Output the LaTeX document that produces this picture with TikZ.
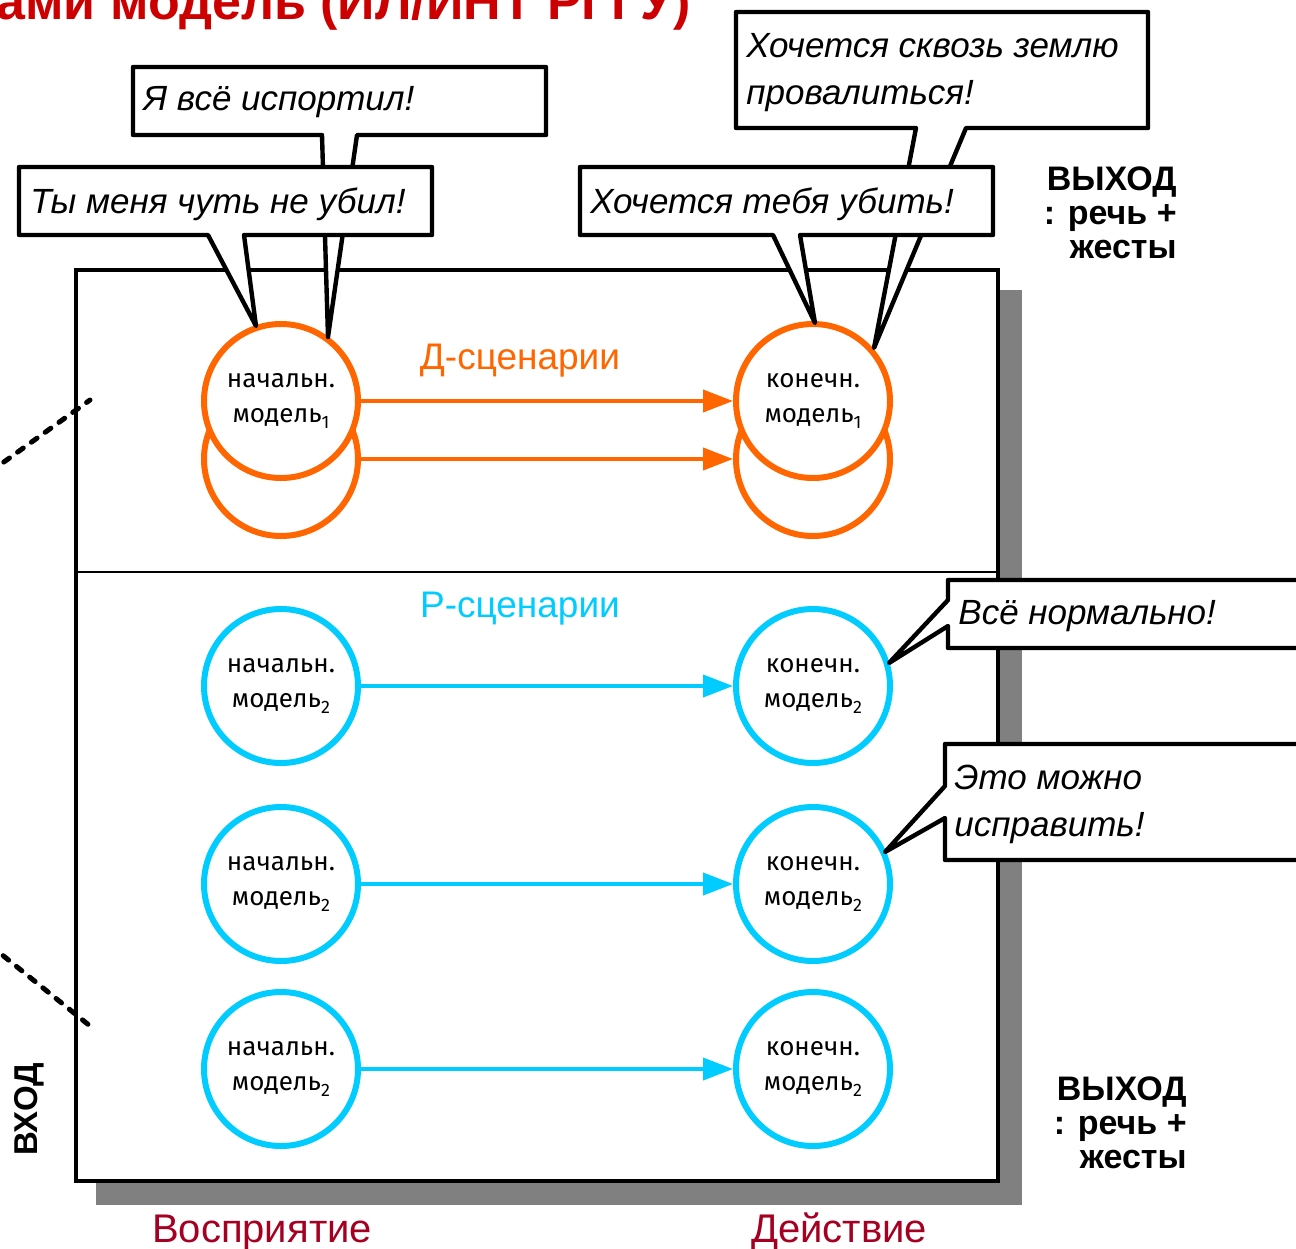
\documentclass[tikz,border=0pt]{standalone}
\usepackage{fontspec}
\setmainfont{Liberation Sans}
\newfontfamily\circfont{Fira Sans}
\usetikzlibrary{arrows.meta}
\definecolor{dorange}{HTML}{FF6600}
\definecolor{dcyan}{HTML}{00CCFF}
\definecolor{tred}{HTML}{CC0000}
\definecolor{lred}{HTML}{A50021}
\definecolor{shadowgray}{HTML}{808080}
\newcommand{\sbx}[1]{{\fontsize{9}{9}\selectfont\raisebox{-3pt}{#1}}}
\tikzset{
 circ/.style={circle, draw, line width=3pt, fill=white, minimum size=77pt, inner sep=0pt, align=center, font=\circfont\fontsize{13}{17.5}\selectfont},
 arr/.style={line width=2pt, -{Triangle[length=15pt,width=11pt]}},
 callout/.style={draw, fill=white, line width=2.2pt, line join=round},
 saytext/.style={font=\itshape\fontsize{17.5}{23.5}\selectfont, inner sep=0pt, anchor=north west, align=left},
 outtext/.style={font=\bfseries\fontsize{17}{17}\selectfont, inner sep=0pt, anchor=north east, align=right},
 scen/.style={font=\fontsize{18.5}{20}\selectfont, inner sep=0pt, anchor=base},
 bottomlabel/.style={font=\fontsize{20}{22}\selectfont, text=lred, inner sep=0pt, anchor=base},
 dotline/.style={line width=2.5pt, dash pattern=on 3.5pt off 5pt, line cap=round},
}
\begin{document}
\begin{tikzpicture}[x=0.5pt,y=-0.5pt]
\useasboundingbox (0,0) rectangle (1296,1248);
\clip (0,0) rectangle (1296,1248);
% title (clipped at the top edge, as in the reference)
\node[font=\bfseries\fontsize{26}{30}\selectfont, text=tred, inner sep=0pt, anchor=base west] (title) at (-4,19) {ами модель (ИЛ/ИНТ РГГУ)};
% shadow and main box
\fill[shadowgray] (96,290) rectangle (1022,1205);
\draw[line width=2pt, fill=white] (76,270) rectangle (998,1181);
\draw[line width=1pt] (76,572) -- (998,572);
% dotted lines
\draw[dotline] (-10,472) -- (90,400);
\draw[dotline] (-10,945) -- (95,1030);
% orange circles
\node[circ, draw=dorange] (s1b) at (281,459) {};
\node[circ, draw=dorange] (e1b) at (813,459) {};
\node[circ, draw=dorange] (s1) at (281,401) {начальн.\\модель\sbx{1}};
\node[circ, draw=dorange] (e1) at (813,401) {конечн.\\модель\sbx{1}};
\draw[arr, dorange] (s1) -- (e1);
\draw[arr, dorange] (s1b) -- (e1b);
% cyan circles
\node[circ, draw=dcyan] (s2) at (281,686) {начальн.\\модель\sbx{2}};
\node[circ, draw=dcyan] (e2) at (813,686) {конечн.\\модель\sbx{2}};
\node[circ, draw=dcyan] (s3) at (281,884) {начальн.\\модель\sbx{2}};
\node[circ, draw=dcyan] (e3) at (813,884) {конечн.\\модель\sbx{2}};
\node[circ, draw=dcyan] (s4) at (281,1069) {начальн.\\модель\sbx{2}};
\node[circ, draw=dcyan] (e4) at (813,1069) {конечн.\\модель\sbx{2}};
\draw[arr, dcyan] (s2) -- (e2);
\draw[arr, dcyan] (s3) -- (e3);
\draw[arr, dcyan] (s4) -- (e4);
% scenario labels
\node[scen, text=dorange] (dscen) at (520,369) {Д-сценарии};
\node[scen, text=dcyan] (rscen) at (520,617) {Р-сценарии};
% callouts (upper first)
\path[callout] (133,67) -- (546,67) -- (546,135) -- (357,135) -- (328,337) -- (322,135) -- (133,135) -- cycle;
\node[saytext] (say1) at (143,86) {Я всё испортил!};
\path[callout] (736,12) -- (1148,12) -- (1148,128) -- (966,128) -- (874,348) -- (916,128) -- (736,128) -- cycle;
\node[saytext] (say2) at (746,33) {Хочется сквозь землю\\провалиться!};
\path[callout] (19,167) -- (432,167) -- (432,235) -- (244,235) -- (256,326) -- (208,235) -- (19,235) -- cycle;
\node[saytext] (say3) at (30,187) {Ты меня чуть не убил!};
\path[callout] (580,167) -- (993,167) -- (993,235) -- (800,235) -- (815,323) -- (773,235) -- (580,235) -- cycle;
\node[saytext] (say4) at (590,187) {Хочется тебя убить!};
\path[callout] (1320,580) -- (948,580) -- (948,600) -- (889,663) -- (948,626) -- (948,648) -- (1320,648) -- cycle;
\node[saytext] (say5) at (958,600) {Всё нормально!};
\path[callout] (1320,744) -- (945,744) -- (945,786) -- (885,852) -- (945,818) -- (945,860) -- (1320,860) -- cycle;
\node[saytext] (say6) at (954,765) {Это можно\\исправить!};
% outputs / input
\node[outtext] (out1) at (1177,166) {ВЫХОД\\: речь +\\жесты};
\node[outtext] (out2) at (1187,1076) {ВЫХОД\\: речь +\\жесты};
\node[rotate=90, anchor=base west, font=\bfseries\fontsize{16.5}{17}\selectfont, inner sep=0pt] (vhod) at (37,1156) {ВХОД};
% bottom labels
\node[bottomlabel] (percept) at (262,1242) {Восприятие};
\node[bottomlabel] (action) at (839,1242) {Действие};
\end{tikzpicture}
\end{document}
